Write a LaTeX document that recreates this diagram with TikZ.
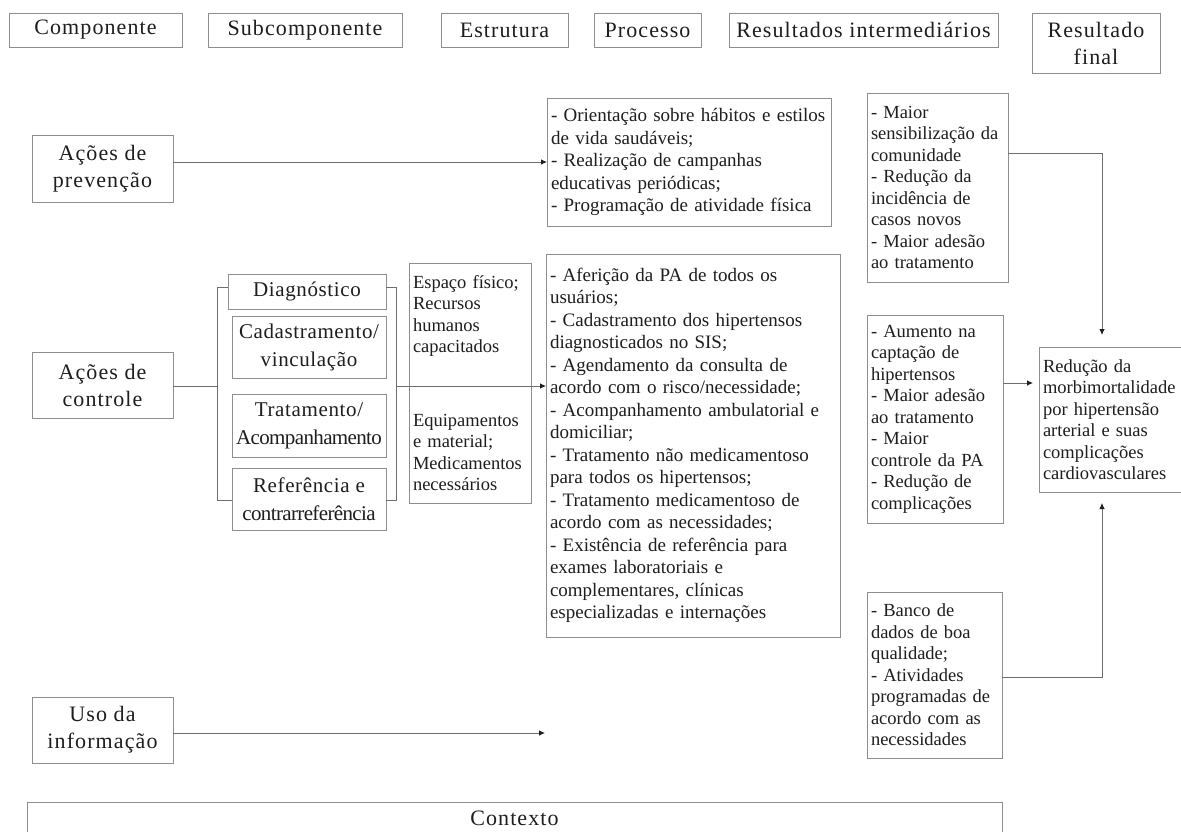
\documentclass[tikz,border=0pt]{standalone}
\usepackage{fontspec}
\setmainfont{Liberation Serif}
\newfontfamily\hdrfont[LetterSpace=5]{Liberation Serif}
\newfontfamily\subfont[LetterSpace=3]{Liberation Serif}
\newfontfamily\tightfont[LetterSpace=-3]{Liberation Serif}
\usetikzlibrary{arrows.meta}
\definecolor{boxline}{HTML}{8E8E8E}
\definecolor{conline}{HTML}{6E6E6E}
\definecolor{ink}{HTML}{1E1E1E}
\begin{document}
\begin{tikzpicture}[x=1pt,y=-1pt,
  box/.style={draw=boxline, line width=0.8pt, inner ysep=0pt, outer sep=0pt, anchor=north west, text=ink},
  hdr/.style={box, inner xsep=2pt, font=\hdrfont\fontsize{22}{27}\selectfont, align=center},
  sub/.style={box, inner xsep=2pt, font=\subfont\fontsize{21}{28}\selectfont, align=center},
  body/.style={box, inner xsep=4pt, font=\fontsize{18.5}{21.5}\selectfont, align=left},
  procbody/.style={box, inner xsep=4pt, font=\fontsize{19}{22.5}\selectfont, align=left},
  conn/.style={draw=conline, line width=0.8pt},
  arr/.style={conn, -{Latex[length=6pt,width=5.5pt,color=ink]}}]
\clip (0,0) rectangle (1181,832);
\useasboundingbox (0,0) rectangle (1181,832);
\fill[white] (0,0) rectangle (1181,832);

% header row
\node[hdr, minimum width=173pt, minimum height=34pt] (hcomp) at (9,13) {Componente};
\node[hdr, minimum width=194pt, minimum height=34pt] (hsub) at (208,13) {Subcomponente};
\node[hdr, minimum width=127pt, minimum height=34pt] (hest) at (441,13) {Estrutura};
\node[hdr, minimum width=107pt, minimum height=34pt] (hproc) at (594,13) {Processo};
\node[hdr, minimum width=269pt, minimum height=34pt] (hres) at (729,13) {Resultados intermediários};
\node[hdr, minimum width=128pt, minimum height=60pt] (hfin) at (1032,13) {Resultado\\final};

% components
\node[hdr, minimum width=141pt, minimum height=67pt] (prev) at (32,135) {Ações de\\prevenção};
\node[hdr, minimum width=141pt, minimum height=66pt] (ctrl) at (32,352) {Ações de\\controle};
\node[hdr, minimum width=141pt, minimum height=66pt] (uso) at (32,697) {Uso da\\informação};

% subcomponents
\node[sub, minimum width=158pt, minimum height=35pt] (diag) at (228,274) {Diagnóstico};
\node[sub, minimum width=154pt, minimum height=62pt] (cad) at (232,316) {Cadastramento/\\vinculação};
\node[sub, minimum width=154pt, minimum height=63pt] (trat) at (232,394) {Tratamento/\\{\tightfont Acompanhamento}};
\node[sub, minimum width=154pt, minimum height=62pt] (ref) at (232,468) {Referência e\\{\tightfont contrarreferência}};

% structure
\node[body, minimum width=122pt, minimum height=240pt, text width=114pt] (estr) at (409,263)
  {Espaço físico;\\Recursos\\humanos\\capacitados\\[52pt]Equipamentos\\e material;\\Medicamentos\\necessários};

% process
\node[procbody, minimum width=284pt, minimum height=128pt, text width=276pt] (proc1) at (547,98)
  {- Orientação sobre hábitos e estilos\\de vida saudáveis;\\- Realização de campanhas\\educativas periódicas;\\- Programação de atividade física};
\node[procbody, minimum width=294pt, minimum height=383pt, text width=286pt] (proc2) at (546,254)
  {- Aferição da PA de todos os\\usuários;\\- Cadastramento dos hipertensos\\diagnosticados no SIS;\\- Agendamento da consulta de\\acordo com o risco/necessidade;\\- Acompanhamento ambulatorial e\\domiciliar;\\- Tratamento não medicamentoso\\para todos os hipertensos;\\- Tratamento medicamentoso de\\acordo com as necessidades;\\- Existência de referência para\\exames laboratoriais e\\complementares, clínicas\\especializadas e internações};

% intermediate results
\node[body, minimum width=141pt, minimum height=189pt, text width=133pt] (res1) at (867,93)
  {- Maior\\sensibilização da\\comunidade\\- Redução da\\incidência de\\casos novos\\- Maior adesão\\ao tratamento};
\node[body, minimum width=136pt, minimum height=208pt, text width=128pt] (res2) at (867,315)
  {- Aumento na\\captação de\\hipertensos\\- Maior adesão\\ao tratamento\\- Maior\\controle da PA\\- Redução de\\complicações};
\node[body, minimum width=135pt, minimum height=166pt, text width=127pt] (res3) at (867,592)
  {- Banco de\\dados de boa\\qualidade;\\- Atividades\\programadas de\\acordo com as\\necessidades};

% final result
\node[body, minimum width=142pt, minimum height=145pt, text width=134pt] (fin) at (1039,347)
  {Redução da\\morbimortalidade\\por hipertensão\\arterial e suas\\complicações\\cardiovasculares};

% context
\node[hdr, minimum width=975pt, minimum height=32pt] (ctx) at (27,802) {Contexto};

% helper coordinates
\coordinate (lt) at (217,287);
\coordinate (lb) at (217,500);
\coordinate (rt) at (396,287);
\coordinate (rb) at (396,500);
\coordinate (rm) at (396,386);
\coordinate (lm) at (217,386);
\coordinate (j1) at (1102,153);
\coordinate (j2) at (1003,383);
\coordinate (j3) at (1102,677);
\coordinate (usoend) at (545,733);

% connectors
\draw[arr] (prev.east |- proc1.west) -- (proc1.west);
\draw[conn] (ctrl.east |- lm) -- (lm);
\draw[conn] (diag.west |- lt) -- (lt) -- (lb) -- (ref.west |- lb);
\draw[conn] (diag.east |- rt) -- (rt) -- (rb) -- (ref.east |- rb);
\draw[arr] (rm) -- (proc2.west |- rm);
\draw[arr] (uso.east |- usoend) -- (usoend);
\draw[arr, shorten >=12pt] (res1.east |- j1) -- (j1) -- (j1 |- fin.north);
\draw[arr, shorten >=6pt] (j2) -- (fin.west |- j2);
\draw[arr, shorten >=11pt] (res3.east |- j3) -- (j3) -- (j3 |- fin.south);
\end{tikzpicture}
\end{document}
